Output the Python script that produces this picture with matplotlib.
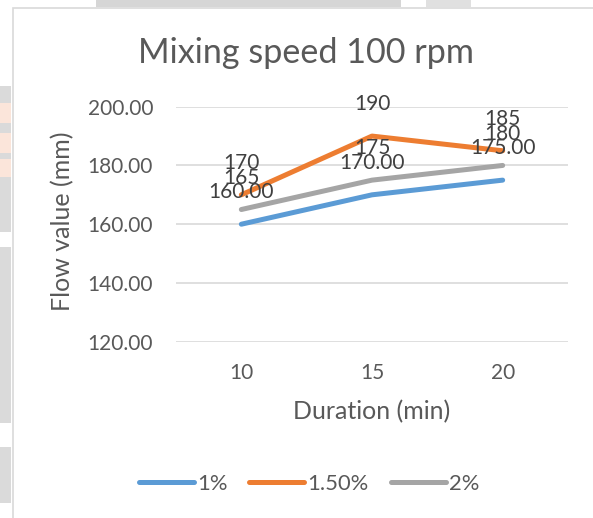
import matplotlib
matplotlib.use("Agg")
import matplotlib.pyplot as plt
from matplotlib.patches import Rectangle
from matplotlib.lines import Line2D

# ---- data ----
durations = ["10", "15", "20"]
series_names = ["1%", "1.50%", "2%"]
flow_1 = [160, 170, 175]
flow_150 = [170, 190, 185]
flow_2 = [165, 175, 180]
label_1 = ["160.00", "170.00", "175.00"]
label_150 = ["170", "190", "185"]
label_2 = ["165", "175", "180"]
y_ticks = [120, 140, 160, 180, 200]

colors = ["#5B9BD5", "#ED7D31", "#A5A5A5"]

plt.rcParams['font.family'] = ['Lato', 'DejaVu Sans']

W, H = 593, 518
fig = plt.figure(figsize=(W / 100, H / 100), dpi=100)
fig.patch.set_facecolor("white")

def fx(px):
    return px / W

def fy(py):
    return 1 - py / H

# background decoration outside chart area (watermark remnants)
def frect(x0, y0, x1, y1, color):
    fig.patches.append(Rectangle((fx(x0), fy(y1)), fx(x1) - fx(x0), fy(y0) - fy(y1),
                                 transform=fig.transFigure, facecolor=color,
                                 edgecolor="none", zorder=-3))

frect(0, 86, 11, 232, "#DADADA")
frect(0, 247, 11, 423, "#DADADA")
frect(0, 447, 11, 503, "#DADADA")
frect(0, 103, 11, 123, "#FBE5DA")
frect(0, 133, 11, 153, "#FBE5DA")
frect(0, 159, 11, 177, "#FBE5DA")
frect(96, 0, 401, 7, "#D6D6D6")
frect(426, 0, 471, 7, "#E0E0E0")

# chart area
fig.patches.append(Rectangle((fx(12.5), fy(H + 5)), fx(W + 10), fy(7.5) - fy(H + 5),
                             transform=fig.transFigure, facecolor="white",
                             edgecolor="#D9D9D9", linewidth=1.2, zorder=-2))

ax = fig.add_axes([fx(176), fy(341.7), fx(568) - fx(176), fy(106.7) - fy(341.7)])
ax.set_facecolor("none")

x = list(range(len(durations)))
all_series = [flow_1, flow_150, flow_2]
all_labels = [label_1, label_150, label_2]
for vals, c, name in zip(all_series, colors, series_names):
    ax.plot(x, vals, color=c, lw=3.6, solid_capstyle="round",
            solid_joinstyle="round", label=name, zorder=3)

for vals, labs in zip(all_series, all_labels):
    for xi, v, t in zip(x, vals, labs):
        ax.annotate(t, (xi, v), xytext=(0, 23), textcoords="offset points",
                    ha="center", va="center", fontsize=15, color="#404040", zorder=5)

ax.set_xlim(-0.5, len(durations) - 0.5)
ax.set_ylim(120, 200)
ax.set_yticks(y_ticks)
ax.set_yticklabels([f"{t:.2f}" for t in y_ticks])
ax.set_xticks(x)
ax.set_xticklabels(durations)
ax.grid(axis="y", color="#D9D9D9", lw=1.2)
ax.set_axisbelow(True)
for s in ax.spines.values():
    s.set_visible(False)
ax.tick_params(axis="both", length=0, labelsize=15, colors="#595959")
ax.tick_params(axis="y", pad=16.5)
ax.tick_params(axis="x", pad=15)

fig.text(fx(305.5), fy(63.3), "Mixing speed 100 rpm", ha="center", va="baseline",
         fontsize=24.6, color="#595959")
fig.text(fx(372), fy(411.7), "Duration (min)", ha="center", va="center",
         fontsize=18, color="#595959")
fig.text(fx(63), fy(221.5), "Flow value (mm)", ha="center", va="center",
         rotation=90, fontsize=18, color="#595959")

handles = [Line2D([0], [0], color=c, lw=3.6, solid_capstyle="round") for c in colors]
leg = fig.legend(handles, series_names, loc="center", bbox_to_anchor=(fx(309), fy(484)),
                 ncol=3, frameon=False, fontsize=15.8, handlelength=2.5,
                 handletextpad=0.15, columnspacing=1.0, labelcolor="#595959")

fig.savefig("out.png", dpi=100)
